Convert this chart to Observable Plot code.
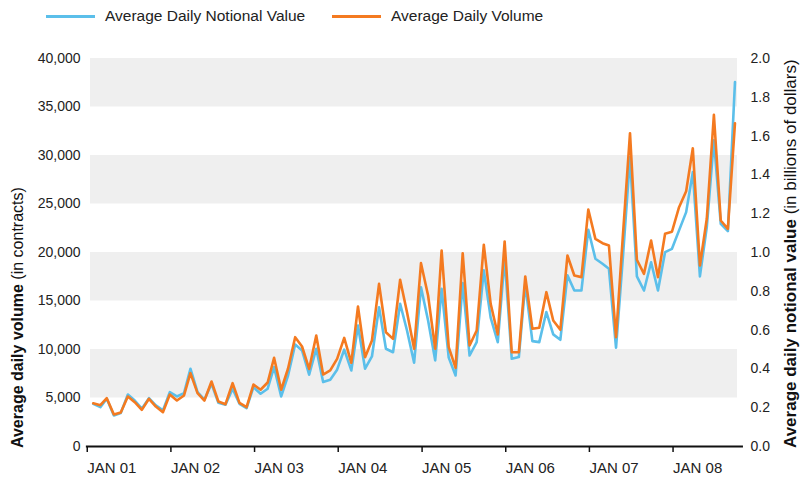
<!DOCTYPE html>
<html>
<head>
<meta charset="utf-8">
<script src="https://cdn.jsdelivr.net/npm/d3@7"></script>
<script src="https://cdn.jsdelivr.net/npm/@observablehq/plot@0.6"></script>
<style>
  body { margin: 0; background: #fff; }
  #wrap { position: relative; width: 800px; height: 479px; overflow: hidden; font-family: "Liberation Sans", Arial, sans-serif; color: #222; }
  #legend { position: absolute; left: 0; top: 0; width: 800px; height: 32px; }
  .sw { position: absolute; top: 15px; height: 3px; width: 49px; }
  .lt { position: absolute; top: 6px; font-size: 15.5px; line-height: 20px; white-space: nowrap; color: #222; }
  #chart { position: absolute; left: 0; top: 0; }
</style>
</head>
<body>
<div id="wrap">
  <div id="chart"></div>
  <div id="legend">
    <span class="sw" style="left:46px;background:#5bbfea"></span>
    <span class="lt" style="left:105px">Average Daily Notional Value</span>
    <span class="sw" style="left:332px;background:#f47a20"></span>
    <span class="lt" style="left:391px">Average Daily Volume</span>
  </div>
</div>
<script>
// Monthly series, Jan 2001 – Sep 2008
const firstMonth = "2001-01-01";
const lastMonth = "2008-09-01";

// Average daily volume (contracts)
const volume = [
  4460, 4260, 4980, 3300, 3500, 5150, 4570, 3780, 4920, 4120,
  3540, 5360, 4740, 5260, 7560, 5500, 4740, 6700, 4640, 4360,
  6530, 4500, 4050, 6390, 5850, 6600, 9140, 5850, 8040, 11270,
  10310, 8000, 11440, 7420, 7840, 9040, 11200, 8630, 14430, 9210,
  10930, 16770, 11780, 11100, 17190, 13850, 10070, 18900, 15570, 10070,
  20210, 10240, 8110, 19930, 10410, 11960, 20800, 14710, 11550, 21140,
  9720, 9720, 17530, 12140, 12240, 15910, 12990, 12030, 19690, 17630,
  17460, 24430, 21410, 20960, 20720, 11270, 21780, 32300, 19250, 17800,
  21240, 17460, 21930, 22140, 24670, 26320, 30750, 18660, 23480, 34200,
  23300, 22440, 33330
];

// Average daily notional value (billions of dollars)
const notional = [
  0.220, 0.203, 0.246, 0.160, 0.172, 0.268, 0.237, 0.195, 0.249, 0.212,
  0.186, 0.280, 0.258, 0.275, 0.401, 0.280, 0.241, 0.323, 0.225, 0.215,
  0.298, 0.220, 0.198, 0.306, 0.272, 0.298, 0.409, 0.258, 0.366, 0.526,
  0.495, 0.370, 0.504, 0.332, 0.344, 0.396, 0.499, 0.392, 0.624, 0.401,
  0.464, 0.718, 0.504, 0.486, 0.736, 0.598, 0.432, 0.821, 0.650, 0.444,
  0.813, 0.458, 0.366, 0.842, 0.469, 0.538, 0.908, 0.664, 0.538, 0.970,
  0.452, 0.461, 0.839, 0.543, 0.538, 0.693, 0.578, 0.550, 0.882, 0.804,
  0.804, 1.117, 0.968, 0.942, 0.916, 0.509, 0.976, 1.492, 0.877, 0.804,
  0.950, 0.804, 1.002, 1.019, 1.114, 1.208, 1.414, 0.877, 1.131, 1.578,
  1.148, 1.110, 1.878
];

// Axes
const leftTicks = [0, 5000, 10000, 15000, 20000, 25000, 30000, 35000, 40000];
const rightTicks = [0, 0.2, 0.4, 0.6, 0.8, 1.0, 1.2, 1.4, 1.6, 1.8, 2.0];
const contractsPerBillion = 20000; // 2.0 billion on the right axis = 40,000 contracts on the left
const yearTicks = ["2001-01-01","2002-01-01","2003-01-01","2004-01-01","2005-01-01","2006-01-01","2007-01-01","2008-01-01"];
const bands = [[5000, 10000], [15000, 20000], [25000, 30000], [35000, 40000]];

const months = d3.utcMonth.range(new Date(firstMonth), d3.utcMonth.offset(new Date(lastMonth), 1));
const volData = volume.map((v, i) => ({date: months[i], value: v}));
const notData = notional.map((v, i) => ({date: months[i], value: v * contractsPerBillion}));
const yearDates = yearTicks.map(d => new Date(d));

const font = '"Liberation Sans", Arial, sans-serif';

const chart = Plot.plot({
  width: 800,
  height: 479,
  marginTop: 58,
  marginBottom: 33,
  marginLeft: 90,
  marginRight: 63,
  style: {fontFamily: font, fontSize: "14px", color: "#222", background: "transparent", overflow: "visible"},
  x: {type: "utc", domain: [new Date("2000-12-20"), new Date("2008-09-12")]},
  y: {domain: [0, 40000]},
  marks: [
    Plot.rectY(bands, {y1: d => d[0], y2: d => d[1], fill: "#efefef"}),
    Plot.axisY({ticks: leftTicks, tickSize: 0, tickPadding: 10, tickFormat: d3.format(","), label: null, fontSize: 14}),
    Plot.axisY({anchor: "right", ticks: rightTicks.map(t => t * contractsPerBillion), tickSize: 0, tickPadding: 13,
      tickFormat: d => (d / contractsPerBillion).toFixed(1), label: null, fontSize: 14}),
    Plot.axisX({ticks: yearDates, tickSize: 6, tickPadding: 10, strokeWidth: 1.5, stroke: "#111",
      tickFormat: d => "JAN " + d3.utcFormat("%y")(d), textAnchor: "start", dx: -6, fontSize: 15, label: null}),
    Plot.ruleY([0], {x1: () => new Date("2000-12-02"), x2: () => new Date("2008-10-08"), stroke: "#111", strokeWidth: 2}),
    Plot.lineY(notData, {x: "date", y: "value", stroke: "#5bbfea", strokeWidth: 2.6}),
    Plot.lineY(volData, {x: "date", y: "value", stroke: "#f47a20", strokeWidth: 2.6})
  ]
});

document.getElementById("chart").appendChild(chart);

const svg = d3.select(chart);
const lt = svg.append("text")
  .attr("transform", "translate(23,448) rotate(-90)")
  .attr("text-anchor", "start")
  .attr("font-family", font).attr("font-size", 16).attr("fill", "#111");
lt.append("tspan").attr("font-weight", "bold").text("Average daily volume");
lt.append("tspan").text(" (in contracts)");

const rt = svg.append("text")
  .attr("transform", "translate(796,448) rotate(-90)")
  .attr("text-anchor", "start")
  .attr("font-family", font).attr("font-size", 17).attr("fill", "#111");
rt.append("tspan").attr("font-weight", "bold").text("Average daily notional value");
rt.append("tspan").text(" (in billions of dollars)");
</script>
</body>
</html>
